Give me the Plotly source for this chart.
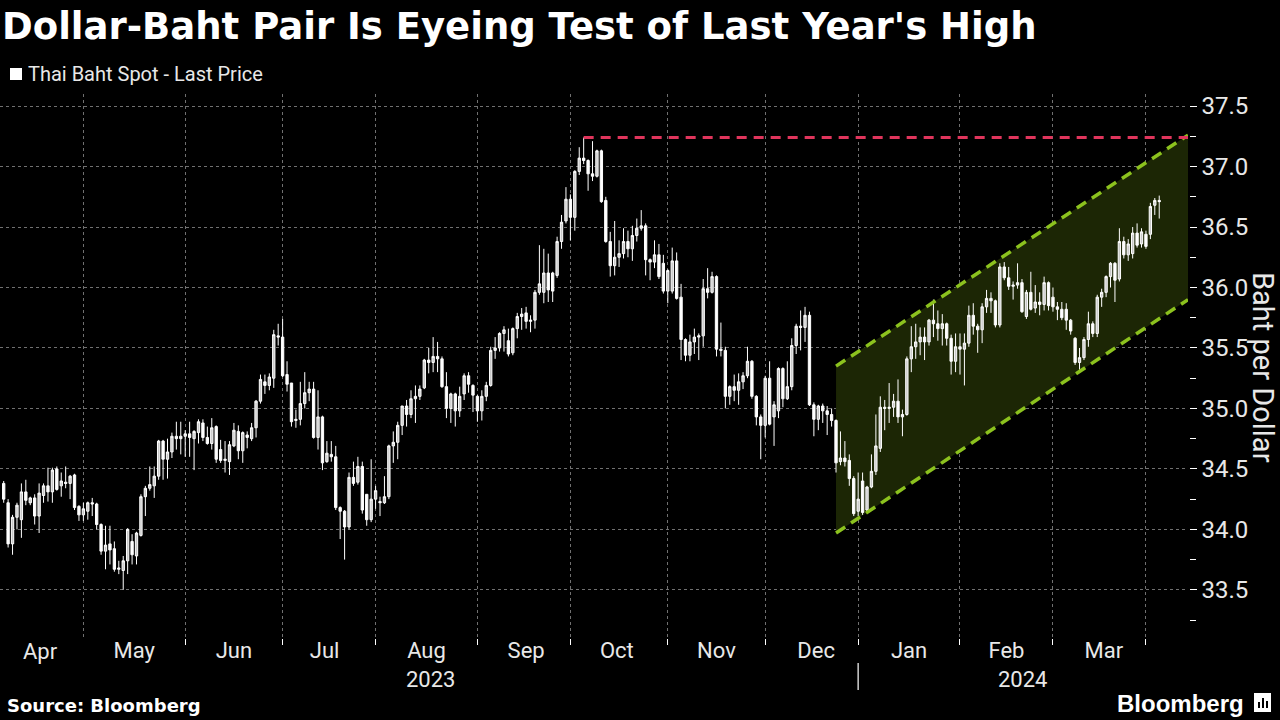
import pandas as pd
import plotly.graph_objects as go

# ---------------- data (USD/THB daily candles) ----------------
start_date = "2023-04-05"

open_px = [
    34.38, 34.22, 33.88, 34.10, 34.08, 34.31, 34.22, 34.26, 34.11, 34.28,
    34.36, 34.31, 34.50, 34.36, 34.39, 34.38, 34.45, 34.19, 34.12, 34.15,
    34.22, 34.21, 34.04, 33.82, 33.88, 33.84, 33.67, 33.66, 33.74, 33.90,
    33.78, 33.95, 34.27, 34.34, 34.36, 34.44, 34.73, 34.58, 34.64, 34.77,
    34.75, 34.77, 34.79, 34.75, 34.80, 34.88, 34.76, 34.71, 34.85, 34.66,
    34.57, 34.56, 34.69, 34.81, 34.65, 34.78, 34.75, 34.84, 35.06, 35.22,
    35.19, 35.25, 35.60, 35.59, 35.28, 35.21, 34.90, 34.91, 35.04, 35.13,
    35.16, 34.76, 34.93, 34.56, 34.62, 34.60, 34.18, 34.15, 34.02, 34.43,
    34.39, 34.52, 34.29, 34.08, 34.25, 34.23, 34.22, 34.27, 34.69, 34.72,
    34.86, 35.02, 34.95, 35.08, 35.10, 35.17, 35.40, 35.38, 35.43, 35.41,
    35.18, 35.00, 35.12, 34.98, 35.12, 35.27, 35.19, 35.10, 34.98, 35.10,
    35.19, 35.48, 35.50, 35.62, 35.56, 35.46, 35.66, 35.76, 35.79, 35.72,
    35.73, 35.96, 35.96, 36.12, 36.12, 36.10, 36.38, 36.55, 36.73, 36.58,
    36.96, 37.07, 37.05, 36.94, 36.92, 37.13, 36.72, 36.38, 36.18, 36.25,
    36.28, 36.38, 36.32, 36.43, 36.49, 36.51, 36.23, 36.21, 36.27, 36.20,
    35.97, 35.97, 36.22, 35.92, 35.57, 35.44, 35.55, 35.59, 35.60, 35.99,
    35.96, 36.09, 35.49, 35.48, 35.10, 35.18, 35.15, 35.22, 35.27, 35.39,
    35.10, 34.93, 34.86, 35.25, 34.93, 34.98, 35.33, 35.08, 35.18, 35.52,
    35.68, 35.67, 35.77, 35.03, 34.91, 35.02, 34.98, 34.95, 34.90, 34.56,
    34.59, 34.57, 34.42, 34.15, 34.40, 34.16, 34.35, 34.48, 34.67, 35.01,
    35.00, 35.01, 35.06, 34.93, 34.95, 35.41, 35.51, 35.55, 35.59, 35.55,
    35.73, 35.70, 35.66, 35.70, 35.58, 35.39, 35.51, 35.49, 35.54, 35.77,
    35.68, 35.65, 35.84, 35.91, 35.89, 35.69, 36.17, 36.08, 36.01, 36.02,
    36.04, 35.76, 35.96, 35.83, 35.88, 35.86, 36.04, 35.92, 35.84, 35.82,
    35.82, 35.73, 35.58, 35.38, 35.42, 35.57, 35.70, 35.62, 35.92, 35.96,
    36.09, 36.20, 36.07, 36.38, 36.27, 36.28, 36.45, 36.36, 36.44, 36.44,
    36.68, 36.72,
]

high_px = [
    34.40, 34.25, 34.12, 34.22, 34.38, 34.41, 34.27, 34.29, 34.38, 34.38,
    34.51, 34.51, 34.52, 34.47, 34.52, 34.45, 34.46, 34.20, 34.22, 34.23,
    34.26, 34.22, 34.05, 34.03, 34.03, 33.90, 33.74, 33.78, 34.01, 33.96,
    33.98, 34.29, 34.36, 34.52, 34.52, 34.74, 34.74, 34.75, 34.80, 34.89,
    34.89, 34.82, 34.89, 34.82, 34.91, 34.91, 34.85, 34.92, 34.86, 34.74,
    34.73, 34.73, 34.88, 34.86, 34.81, 34.81, 34.88, 35.07, 35.28, 35.28,
    35.29, 35.65, 35.70, 35.74, 35.39, 35.21, 34.99, 35.22, 35.30, 35.22,
    35.22, 35.15, 34.94, 34.73, 34.73, 34.69, 34.19, 34.16, 34.47, 34.56,
    34.60, 34.56, 34.29, 34.58, 34.36, 34.27, 34.44, 34.70, 34.81, 34.89,
    35.02, 35.07, 35.15, 35.19, 35.19, 35.41, 35.50, 35.59, 35.55, 35.43,
    35.30, 35.13, 35.13, 35.18, 35.29, 35.30, 35.20, 35.11, 35.15, 35.22,
    35.51, 35.59, 35.63, 35.68, 35.66, 35.67, 35.79, 35.83, 35.84, 35.77,
    35.98, 36.35, 36.32, 36.28, 36.13, 36.42, 36.60, 36.83, 36.77, 36.97,
    37.16, 37.24, 37.06, 37.21, 37.14, 37.14, 36.75, 36.46, 36.55, 36.39,
    36.49, 36.47, 36.51, 36.57, 36.64, 36.53, 36.24, 36.39, 36.36, 36.27,
    36.15, 36.33, 36.29, 36.03, 35.58, 35.61, 35.66, 35.62, 36.07, 36.16,
    36.13, 36.10, 35.71, 35.51, 35.19, 35.28, 35.29, 35.30, 35.51, 35.40,
    35.11, 34.95, 35.27, 35.39, 35.06, 35.34, 35.34, 35.39, 35.58, 35.70,
    35.81, 35.84, 35.80, 35.05, 35.03, 35.04, 35.02, 35.00, 34.91, 34.81,
    34.73, 34.62, 34.44, 34.47, 34.47, 34.36, 34.62, 34.95, 35.10, 35.07,
    35.21, 35.12, 35.24, 34.99, 35.43, 35.68, 35.70, 35.67, 35.67, 35.74,
    35.90, 35.81, 35.78, 35.71, 35.61, 35.62, 35.62, 35.62, 35.85, 35.87,
    35.70, 35.87, 35.98, 35.96, 35.90, 36.20, 36.21, 36.17, 36.05, 36.20,
    36.07, 35.98, 36.13, 36.02, 35.96, 36.09, 36.05, 36.00, 35.88, 35.88,
    35.87, 35.74, 35.59, 35.50, 35.59, 35.80, 35.72, 35.94, 35.99, 36.10,
    36.21, 36.21, 36.49, 36.42, 36.40, 36.50, 36.53, 36.49, 36.47, 36.70,
    36.74, 36.76,
]

low_px = [
    34.22, 33.85, 33.79, 34.00, 33.93, 34.20, 34.20, 34.04, 33.97, 34.22,
    34.23, 34.22, 34.32, 34.27, 34.34, 34.25, 34.16, 34.07, 34.07, 34.08,
    34.11, 34.00, 33.79, 33.67, 33.71, 33.65, 33.63, 33.50, 33.63, 33.71,
    33.71, 33.94, 34.11, 34.32, 34.26, 34.41, 34.41, 34.42, 34.59, 34.66,
    34.62, 34.60, 34.60, 34.49, 34.71, 34.73, 34.70, 34.66, 34.55, 34.55,
    34.47, 34.45, 34.68, 34.58, 34.55, 34.67, 34.73, 34.76, 35.04, 35.12,
    35.15, 35.17, 35.52, 35.26, 35.14, 34.85, 34.84, 34.86, 35.00, 35.06,
    34.75, 34.66, 34.49, 34.55, 34.56, 34.16, 33.92, 33.75, 34.00, 34.36,
    34.37, 34.13, 34.03, 34.06, 34.17, 34.11, 34.21, 34.25, 34.55, 34.58,
    34.78, 34.85, 34.92, 34.88, 35.07, 35.16, 35.29, 35.30, 35.30, 35.17,
    34.92, 34.88, 34.85, 34.93, 35.07, 35.13, 34.97, 34.89, 34.90, 35.06,
    35.18, 35.41, 35.47, 35.47, 35.43, 35.44, 35.58, 35.65, 35.66, 35.63,
    35.66, 35.94, 35.87, 35.88, 35.88, 36.08, 36.32, 36.53, 36.39, 36.47,
    36.93, 37.02, 36.80, 36.88, 36.91, 36.70, 36.37, 36.09, 36.10, 36.17,
    36.24, 36.25, 36.22, 36.38, 36.47, 36.10, 36.06, 36.16, 36.07, 35.95,
    35.87, 35.95, 35.90, 35.40, 35.39, 35.39, 35.45, 35.40, 35.51, 35.91,
    35.95, 35.43, 35.43, 35.00, 35.03, 35.06, 35.03, 35.16, 35.25, 35.08,
    34.86, 34.58, 34.76, 34.86, 34.69, 34.92, 35.01, 35.07, 35.15, 35.45,
    35.48, 35.55, 35.02, 34.77, 34.82, 34.88, 34.78, 34.85, 34.47, 34.53,
    34.52, 34.36, 34.11, 34.11, 34.12, 34.14, 34.34, 34.45, 34.64, 34.82,
    34.88, 34.93, 34.88, 34.77, 34.94, 35.30, 35.41, 35.44, 35.40, 35.52,
    35.59, 35.56, 35.52, 35.52, 35.28, 35.30, 35.28, 35.19, 35.51, 35.61,
    35.46, 35.54, 35.79, 35.79, 35.67, 35.67, 36.06, 35.98, 35.90, 35.99,
    35.79, 35.74, 35.81, 35.79, 35.77, 35.81, 35.81, 35.80, 35.73, 35.73,
    35.65, 35.61, 35.36, 35.32, 35.40, 35.51, 35.59, 35.59, 35.84, 35.92,
    36.00, 35.88, 36.05, 36.24, 36.22, 36.24, 36.33, 36.33, 36.32, 36.40,
    36.60, 36.57,
]

close_px = [
    34.25, 33.88, 34.10, 34.20, 34.31, 34.24, 34.26, 34.11, 34.30, 34.36,
    34.31, 34.49, 34.33, 34.40, 34.38, 34.44, 34.18, 34.12, 34.17, 34.22,
    34.21, 34.04, 33.82, 33.87, 33.83, 33.67, 33.68, 33.74, 34.00, 33.79,
    33.97, 34.27, 34.34, 34.37, 34.44, 34.73, 34.58, 34.64, 34.77, 34.75,
    34.77, 34.79, 34.76, 34.81, 34.89, 34.76, 34.71, 34.84, 34.58, 34.57,
    34.58, 34.70, 34.82, 34.65, 34.80, 34.76, 34.84, 35.06, 35.24, 35.19,
    35.26, 35.61, 35.59, 35.27, 35.20, 34.89, 34.91, 35.04, 35.13, 35.16,
    34.76, 34.93, 34.55, 34.63, 34.60, 34.18, 34.15, 34.02, 34.43, 34.38,
    34.52, 34.16, 34.08, 34.25, 34.32, 34.22, 34.27, 34.69, 34.72, 34.86,
    35.02, 34.95, 35.08, 35.10, 35.16, 35.40, 35.38, 35.43, 35.41, 35.18,
    35.00, 35.12, 34.98, 35.10, 35.27, 35.20, 35.11, 34.98, 35.10, 35.19,
    35.48, 35.50, 35.62, 35.65, 35.45, 35.66, 35.76, 35.78, 35.72, 35.73,
    35.96, 36.03, 36.12, 35.98, 35.97, 36.38, 36.54, 36.73, 36.58, 36.96,
    37.07, 37.05, 36.94, 36.92, 37.13, 36.71, 36.38, 36.18, 36.25, 36.28,
    36.38, 36.32, 36.43, 36.49, 36.51, 36.23, 36.21, 36.27, 36.09, 35.97,
    36.14, 36.22, 35.91, 35.57, 35.44, 35.55, 35.59, 35.60, 35.99, 35.96,
    36.09, 35.49, 35.48, 35.10, 35.18, 35.15, 35.22, 35.27, 35.39, 35.10,
    34.93, 34.86, 35.25, 34.87, 35.03, 35.33, 35.08, 35.18, 35.52, 35.68,
    35.67, 35.77, 35.03, 34.91, 35.02, 34.98, 34.95, 34.90, 34.55, 34.59,
    34.56, 34.42, 34.13, 34.25, 34.14, 34.35, 34.48, 34.69, 35.01, 35.00,
    35.01, 35.06, 34.93, 34.95, 35.41, 35.51, 35.55, 35.59, 35.55, 35.73,
    35.70, 35.66, 35.70, 35.58, 35.39, 35.51, 35.49, 35.54, 35.77, 35.68,
    35.65, 35.84, 35.91, 35.89, 35.69, 36.17, 36.08, 36.01, 36.02, 36.04,
    35.80, 35.96, 35.82, 35.88, 35.86, 36.04, 35.85, 35.84, 35.82, 35.75,
    35.73, 35.64, 35.38, 35.42, 35.57, 35.70, 35.62, 35.92, 35.96, 36.09,
    36.20, 36.06, 36.38, 36.27, 36.36, 36.45, 36.35, 36.46, 36.34, 36.67,
    36.72, 36.71,
]

# annotation lines drawn on the chart
resistance_x = ["2023-10-05", "2024-04-12 12:00"]
resistance_y = [37.24, 37.24]
channel_x = ["2023-12-25", "2024-04-12 12:00"]
channel_upper = [35.35, 37.26]
channel_lower = [33.97, 35.90]

x_range = ["2023-04-04 04:00", "2024-04-12 12:00"]
y_range = [33.11, 37.60]
first_month_label = "Apr"
year_labels = ["2023", "2024"]
year_break = "2024-01-01"

n = len(close_px)
assert len(open_px) == n and len(high_px) == n and len(low_px) == n
dates = pd.bdate_range(start_date, periods=n).strftime("%Y-%m-%d").tolist()

# ---------------- layout helpers (pixel -> paper) ----------------
PL, PR, PT, PB = 0, 1188, 94, 637


def xp(X):
    return (X - PL) / (PR - PL)


def yp(Y):
    return (PB - Y) / (PB - PT)


TXT = "#e8e8e8"
fig = go.Figure()

# channel fill (kept below the candles)
fig.add_trace(go.Scatter(
    x=channel_x + channel_x[::-1],
    y=channel_lower + channel_upper[::-1],
    fill="toself", fillcolor="#1c2605", mode="lines",
    line=dict(width=0), hoverinfo="skip", showlegend=False, zorder=-1))

fig.add_trace(go.Candlestick(
    x=dates, open=open_px, high=high_px, low=low_px, close=close_px,
    increasing=dict(line=dict(color="#ffffff", width=1), fillcolor="#c8c8c8"),
    decreasing=dict(line=dict(color="#ffffff", width=1), fillcolor="#ffffff"),
    whiskerwidth=0, showlegend=False, name="Thai Baht Spot - Last Price"))

for yy in (channel_upper, channel_lower):
    fig.add_trace(go.Scatter(
        x=channel_x, y=yy, mode="lines",
        line=dict(color="#8cc21e", width=3.5, dash="11px,7px"),
        hoverinfo="skip", showlegend=False, zorder=1))

fig.add_trace(go.Scatter(
    x=resistance_x, y=resistance_y, mode="lines",
    line=dict(color="#e0355c", width=3, dash="10px,7px"),
    hoverinfo="skip", showlegend=False, zorder=1))

fig.update_layout(
    width=1280, height=720, autosize=False,
    paper_bgcolor="#000000", plot_bgcolor="#000000",
    margin=dict(l=PL, r=1280 - PR, t=PT, b=720 - PB, pad=0),
    font=dict(family="Roboto", color=TXT),
    showlegend=False,
    boxgap=0.25,
)

fig.update_xaxes(
    type="date", range=x_range,
    rangebreaks=[dict(bounds=["sat", "mon"])],
    rangeslider=dict(visible=False),
    dtick="M1", tick0="2023-01-01", tickformat="%b", ticklabelmode="period",
    tickfont=dict(size=22, color=TXT, family="Roboto"),
    ticklabelstandoff=-13,
    ticks="outside", ticklen=6, tickcolor="#ffffff", tickwidth=1,
    showline=True, linecolor="#ffffff", linewidth=1.5,
    showgrid=True, gridcolor="#707070", griddash="dot", gridwidth=1,
    zeroline=False,
)

fig.update_yaxes(
    side="right", range=y_range,
    dtick=0.5, tick0=33.5, tickformat=".1f",
    tickfont=dict(size=24, color=TXT, family="Roboto"),
    ticks="outside", ticklen=7, tickcolor="#ffffff", tickwidth=1,
    minor=dict(dtick=0.25, tick0=33.25, ticks="outside", ticklen=6,
               tickcolor="#ffffff", showgrid=False),
    showline=True, linecolor="#ffffff", linewidth=1.5,
    showgrid=True, gridcolor="#707070", griddash="dot", gridwidth=1,
    zeroline=False,
)

ann = []
ann.append(dict(
    text="<b>Dollar-Baht Pair Is Eyeing Test of Last Year's High</b>",
    xref="paper", yref="paper", x=xp(0), y=yp(26), xanchor="left", yanchor="middle",
    showarrow=False, font=dict(family="DejaVu Sans", size=37, color="#ffffff")))
ann.append(dict(
    text="Thai Baht Spot - Last Price",
    xref="paper", yref="paper", x=xp(26), y=yp(74), xanchor="left", yanchor="middle",
    showarrow=False, font=dict(family="Roboto", size=20, color=TXT)))
ann.append(dict(
    text="Baht per Dollar", textangle=90,
    xref="paper", yref="paper", x=xp(1263), y=yp(367), xanchor="center", yanchor="middle",
    showarrow=False, font=dict(family="Roboto", size=29, color=TXT)))
ann.append(dict(
    text=first_month_label, xref="paper", yref="paper", x=xp(40), y=yp(651),
    xanchor="center", yanchor="middle", showarrow=False,
    font=dict(family="Roboto", size=22, color=TXT)))
for lbl, X in zip(year_labels, (430, 1022)):
    ann.append(dict(
        text=lbl, xref="paper", yref="paper", x=xp(X), y=yp(679),
        xanchor="center", yanchor="middle", showarrow=False,
        font=dict(family="Roboto", size=22, color=TXT)))
ann.append(dict(
    text="<b>Source: Bloomberg</b>",
    xref="paper", yref="paper", x=xp(5), y=yp(705), xanchor="left", yanchor="middle",
    showarrow=False, font=dict(family="DejaVu Sans", size=18, color="#ffffff")))
ann.append(dict(
    text="<b>Bloomberg</b>",
    xref="paper", yref="paper", x=xp(1246), y=yp(703), xanchor="right", yanchor="middle",
    showarrow=False, font=dict(family="Liberation Sans", size=24, color="#ffffff")))
fig.update_layout(annotations=ann)

shapes = [
    # legend swatch
    dict(type="rect", xref="paper", yref="paper",
         x0=xp(10), x1=xp(22), y0=yp(80), y1=yp(68),
         fillcolor="#ffffff", line=dict(width=0)),
    # year separator
    dict(type="line", xref="x", yref="paper", x0=year_break, x1=year_break,
         y0=yp(663), y1=yp(690), line=dict(color="#cfcfcf", width=1.5)),
    # logo icon
    dict(type="rect", xref="paper", yref="paper",
         x0=xp(1254), x1=xp(1271), y0=yp(712), y1=yp(693),
         fillcolor="#ffffff", line=dict(width=0)),
]
for bx, bh in ((1258, 6), (1262, 10), (1266, 7)):
    shapes.append(dict(type="rect", xref="paper", yref="paper",
                       x0=xp(bx), x1=xp(bx + 2), y0=yp(708), y1=yp(708 - bh),
                       fillcolor="#000000", line=dict(width=0)))
fig.update_layout(shapes=shapes)

fig.write_html("out.html")
